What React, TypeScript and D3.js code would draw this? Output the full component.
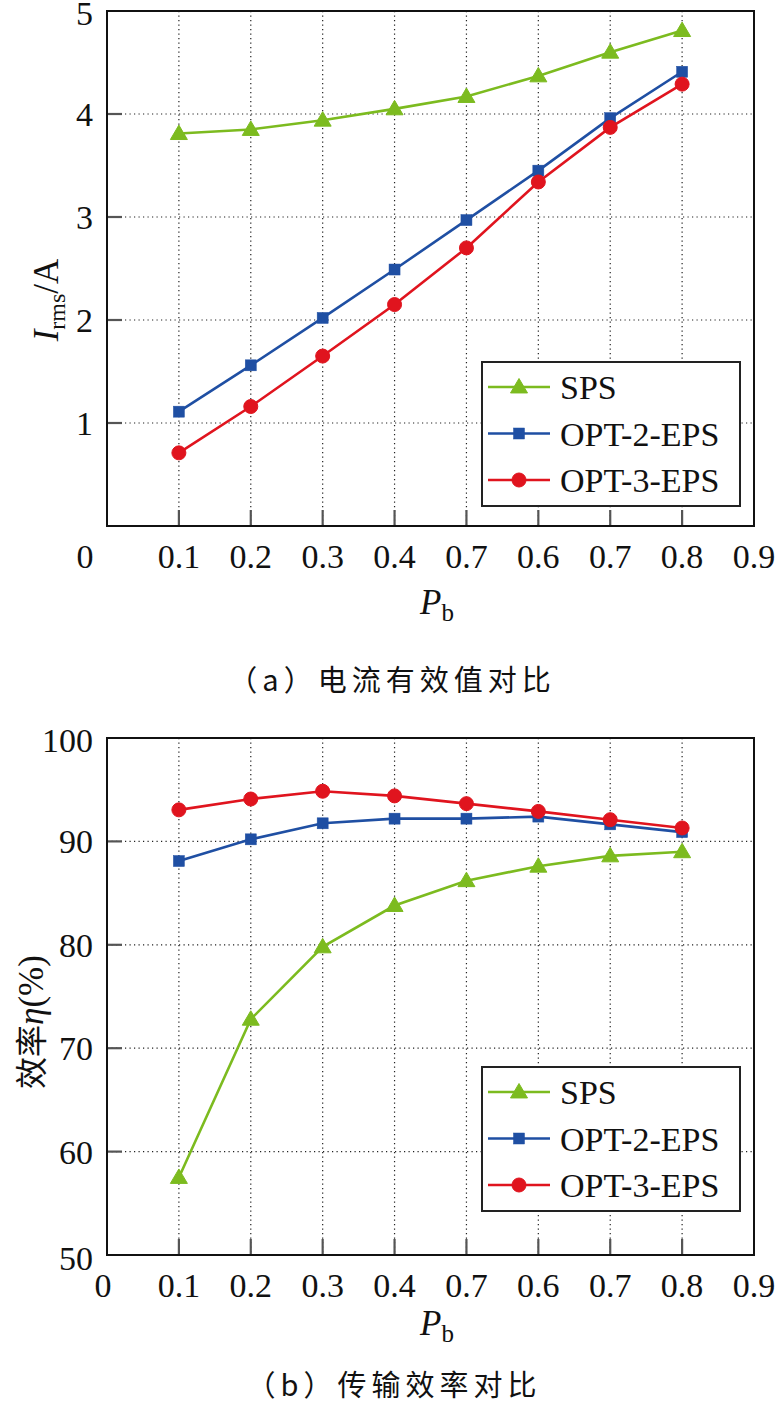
import React from "react";
import * as d3 from "d3";

const xValues = [0.1, 0.2, 0.3, 0.4, 0.5, 0.6, 0.7, 0.8];
const xTickValues = [0, 0.1, 0.2, 0.3, 0.4, 0.5, 0.6, 0.7, 0.8, 0.9];
const xTickLabels = ["0", "0.1", "0.2", "0.3", "0.4", "0.7", "0.6", "0.7", "0.8", "0.9"];

const seriesNames = ["SPS", "OPT-2-EPS", "OPT-3-EPS"];

// (a) RMS current
const currentSPS = [3.81, 3.85, 3.94, 4.05, 4.17, 4.37, 4.6, 4.81];
const currentOPT2 = [1.11, 1.56, 2.02, 2.49, 2.97, 3.45, 3.96, 4.41];
const currentOPT3 = [0.71, 1.16, 1.65, 2.15, 2.7, 3.34, 3.87, 4.29];
const currentYTicks = [1, 2, 3, 4, 5];

// (b) efficiency
const effSPS = [57.5, 72.8, 79.8, 83.8, 86.2, 87.6, 88.6, 89.0];
const effOPT2 = [88.1, 90.2, 91.75, 92.2, 92.2, 92.4, 91.65, 90.9];
const effOPT3 = [93.05, 94.1, 94.85, 94.4, 93.65, 92.9, 92.1, 91.3];
const effYTicks = [50, 60, 70, 80, 90, 100];

const COLORS = ["#7cbb1f", "#1f4fa3", "#e0141e"];
const SERIF = "'Liberation Serif', 'Times New Roman', serif";
const CJK = "'Noto Sans CJK SC', sans-serif";

function Marker({ kind, x, y, color }: { kind: number; x: number; y: number; color: string }) {
  if (kind === 0) {
    const s = 8.5;
    return <path d={`M${x},${y - s} L${x + s},${y + s * 0.7} L${x - s},${y + s * 0.7} Z`} fill={color} stroke={color} strokeWidth={1} />;
  }
  if (kind === 1) {
    return <rect x={x - 5.5} y={y - 5.5} width={11} height={11} fill={color} stroke={color} strokeWidth={0.5} />;
  }
  return <circle cx={x} cy={y} r={7} fill={color} stroke={color} strokeWidth={1} />;
}

type PanelProps = {
  top: number;
  bottom: number;
  yDomain: [number, number];
  yTicks: number[];
  series: number[][];
  zeroLabelDx: number;
  legendTop: number;
};

function Panel({ top, bottom, yDomain, yTicks, series, zeroLabelDx, legendTop }: PanelProps) {
  const x = d3.scaleLinear().domain([0, 0.9]).range([107, 754]);
  const y = d3.scaleLinear().domain(yDomain).range([bottom, top]);
  const line = d3
    .line<number>()
    .x((_, i) => x(xValues[i]))
    .y((d) => y(d));
  const left = x(0);
  const right = x(0.9);
  const innerX = xTickValues.filter((v) => v > 0 && v < 0.9);
  const innerY = yTicks.filter((v) => v > yDomain[0] && v < yDomain[1]);
  return (
    <g>
      {innerX.map((v) => (
        <line key={"gx" + v} x1={x(v)} x2={x(v)} y1={top} y2={bottom} stroke="#222" strokeWidth={1.2} strokeDasharray="1.2,3.3" />
      ))}
      {innerY.map((v) => (
        <line key={"gy" + v} x1={left} x2={right} y1={y(v)} y2={y(v)} stroke="#222" strokeWidth={1.2} strokeDasharray="1.2,3.3" />
      ))}
      {innerX.map((v) => (
        <line key={"tx" + v} x1={x(v)} x2={x(v)} y1={bottom} y2={bottom - 16} stroke="#555" strokeWidth={2.2} />
      ))}
      {innerY.map((v) => (
        <line key={"ty" + v} x1={left} x2={left + 15} y1={y(v)} y2={y(v)} stroke="#555" strokeWidth={2.2} />
      ))}
      <rect x={left} y={top} width={right - left} height={bottom - top} fill="none" stroke="#111" strokeWidth={2} />
      {xTickValues.map((v, i) => (
        <text
          key={"lx" + i}
          x={x(v) + (i === 0 ? zeroLabelDx : 0)}
          y={bottom + 42}
          textAnchor="middle"
          fontFamily={SERIF}
          fontSize={34}
          fill="#111"
        >
          {xTickLabels[i]}
        </text>
      ))}
      {yTicks.map((v) => (
        <text
          key={"ly" + v}
          x={left - 14}
          y={y(v) + (v === yDomain[0] ? 15 : v === yDomain[1] ? 14 : 12)}
          textAnchor="end"
          fontFamily={SERIF}
          fontSize={34}
          fill="#111"
        >
          {v}
        </text>
      ))}
      {series.map((vals, si) => (
        <g key={"s" + si}>
          <path d={line(vals) || ""} fill="none" stroke={COLORS[si]} strokeWidth={2.6} />
          {vals.map((v, i) => (
            <Marker key={i} kind={si} x={x(xValues[i])} y={y(v)} color={COLORS[si]} />
          ))}
        </g>
      ))}
      <rect x={482} y={legendTop} width={258} height={144} fill="#fff" stroke="#222" strokeWidth={2} />
      {seriesNames.map((name, si) => {
        const cy = legendTop + 25 + si * 46.5;
        return (
          <g key={"lg" + si}>
            <line x1={488} x2={550} y1={cy} y2={cy} stroke={COLORS[si]} strokeWidth={2.6} />
            <Marker kind={si} x={519} y={cy} color={COLORS[si]} />
            <text x={560} y={cy + 12} fontFamily={SERIF} fontSize={34} fill="#111">
              {name}
            </text>
          </g>
        );
      })}
    </g>
  );
}

export default function App() {
  return (
    <svg
      width={777}
      height={1406}
      viewBox="0 0 777 1406"
      style={{ position: "absolute", left: 0, top: 0, background: "#fff" }}
    >
      <rect x={0} y={0} width={777} height={1406} fill="#fff" />
      <Panel
        top={11}
        bottom={526}
        yDomain={[0, 5]}
        yTicks={currentYTicks}
        series={[currentSPS, currentOPT2, currentOPT3]}
        zeroLabelDx={-22}
        legendTop={362}
      />
      <Panel
        top={738}
        bottom={1255}
        yDomain={[50, 100]}
        yTicks={effYTicks}
        series={[effSPS, effOPT2, effOPT3]}
        zeroLabelDx={-4}
        legendTop={1067}
      />
      <text transform="translate(58,300) rotate(-90)" textAnchor="middle" fontFamily={SERIF} fontSize={35} fill="#111">
        <tspan fontStyle="italic">I</tspan>
        <tspan fontSize={24} dy={7}>rms</tspan>
        <tspan dy={-7}>/A</tspan>
      </text>
      <text x={420} y={614} fontFamily={SERIF} fontSize={35} fill="#111">
        <tspan fontStyle="italic">P</tspan>
        <tspan fontSize={25} dy={7}>b</tspan>
      </text>
      <text x={392} y={691} textAnchor="middle" fontFamily={CJK} fontSize={29} letterSpacing={5} fill="#111">
        （a）电流有效值对比
      </text>
      <text transform="translate(43,1022) rotate(-90)" textAnchor="middle" fontFamily={SERIF} fontSize={35} fill="#111">
        <tspan fontFamily={CJK} fontSize={32}>效率</tspan>
        <tspan fontStyle="italic">η</tspan>
        <tspan>(%)</tspan>
      </text>
      <text x={420} y={1335} fontFamily={SERIF} fontSize={35} fill="#111">
        <tspan fontStyle="italic">P</tspan>
        <tspan fontSize={25} dy={7}>b</tspan>
      </text>
      <text x={394} y={1396} textAnchor="middle" fontFamily={CJK} fontSize={29} letterSpacing={5} fill="#111">
        （b）传输效率对比
      </text>
    </svg>
  );
}
